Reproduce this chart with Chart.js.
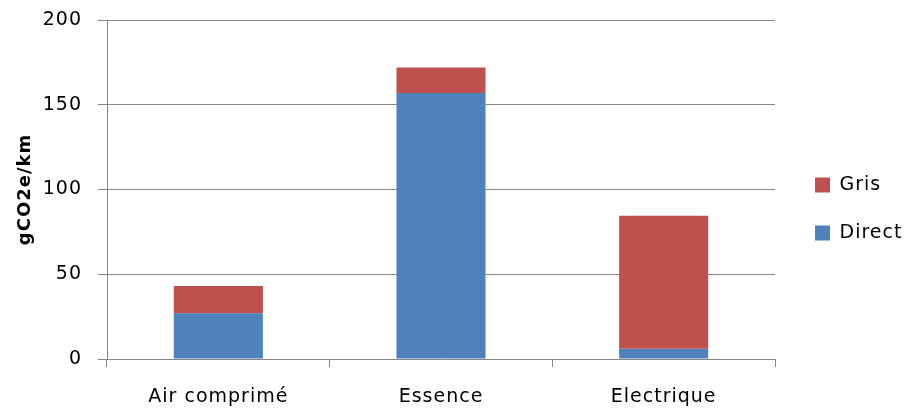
<!DOCTYPE html>
<html>
<head>
<meta charset="utf-8">
<script src="https://cdn.jsdelivr.net/npm/chart.js@4.4.0/dist/chart.umd.min.js"></script>
<style>
  body { margin: 0; background: #fff; }
  #wrap { width: 906px; height: 408px; }
</style>
</head>
<body>
<div id="wrap"><canvas id="co2Chart"></canvas></div>
<script>
'use strict';

const categories = ['Air comprimé', 'Essence', 'Electrique'];
const directValues = [27, 157, 6];
const grisValues = [16, 15, 78.5];
const yTicks = [0, 50, 100, 150, 200];

const gridGrey = '#868686';
const fontFamily = '"DejaVu Sans", Verdana, sans-serif';

// spaced-out text like the original rendering
const letterSpacing = {
  id: 'letterSpacing',
  beforeLayout(chart) { chart.ctx.letterSpacing = '1px'; },
  beforeDraw(chart) { chart.ctx.letterSpacing = '1px'; }
};

let ctx = document.getElementById('co2Chart').getContext('2d');
let myChart = new Chart(ctx, {
  type: 'bar',
  data: {
    labels: categories,
    datasets: [{
      label: 'Direct',
      data: directValues,
      backgroundColor: '#4F81BD',
      barPercentage: 0.4,
      categoryPercentage: 1.0
    }, {
      label: 'Gris',
      data: grisValues,
      backgroundColor: '#C0504D',
      barPercentage: 0.4,
      categoryPercentage: 1.0
    }]
  },
  options: {
    responsive: true,
    maintainAspectRatio: false,
    animation: false,
    layout: { padding: { top: 10, right: 0, bottom: 0, left: 15 } },
    plugins: {
      tooltip: { enabled: false },
      legend: {
        position: 'right',
        reverse: true,
        maxWidth: 120,
        labels: {
          boxWidth: 15,
          boxHeight: 15,
          padding: 29,
          color: '#000',
          font: { family: fontFamily, size: 19, lineHeight: '15px' }
        }
      }
    },
    scales: {
      x: {
        stacked: true,
        grid: {
          display: true,
          drawOnChartArea: false,
          drawTicks: true,
          tickLength: 8,
          color: gridGrey,
          offset: true
        },
        border: { display: true, color: gridGrey },
        ticks: {
          color: '#000',
          padding: 21,
          font: { family: fontFamily, size: 19, lineHeight: 1 }
        },
        afterFit(scale) {
          scale.height = 49;
          scale.paddingLeft = 0;
          scale.paddingRight = 0;
        }
      },
      y: {
        stacked: true,
        min: 0,
        max: 200,
        afterBuildTicks(scale) { scale.ticks = yTicks.map(v => ({ value: v })); },
        grid: { color: gridGrey, tickLength: 9 },
        border: { display: true, color: gridGrey },
        ticks: {
          color: '#000',
          padding: 16,
          font: { family: fontFamily, size: 19 }
        },
        title: {
          display: true,
          text: 'gCO2e/km',
          color: '#000',
          padding: { top: 0, bottom: 6 },
          font: { family: fontFamily, size: 18, weight: 'bold' }
        },
        afterFit(scale) {
          scale.width = 92;
          scale.paddingTop = 20;
          scale.paddingBottom = 0;
        }
      },
      // empty strip between plot and legend
      gap: {
        type: 'linear',
        position: 'right',
        display: true,
        grid: { display: false, drawTicks: false },
        border: { display: false },
        ticks: { display: false },
        afterFit(scale) { scale.width = 11; }
      }
    }
  },
  plugins: [letterSpacing]
});
</script>
</body>
</html>
